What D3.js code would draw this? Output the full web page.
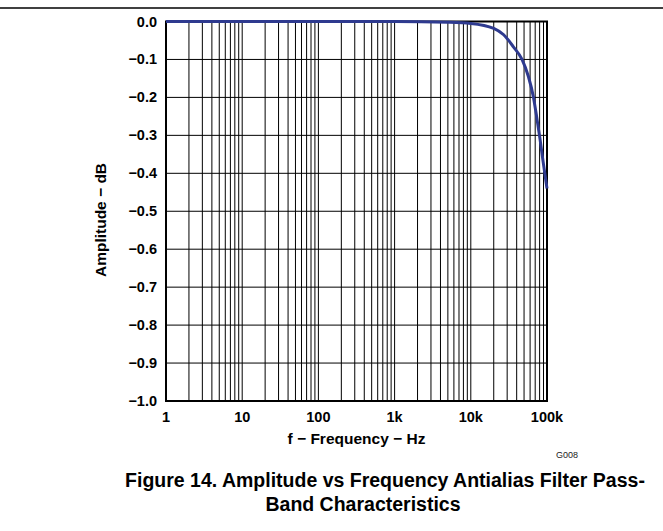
<!DOCTYPE html>
<html><head><meta charset="utf-8">
<script src="https://cdn.jsdelivr.net/npm/d3@7"></script>
<style>body{margin:0;background:#fff}svg{display:block}text{font-family:"Liberation Sans",Arial,sans-serif}</style>
</head><body>
<script>
const freqs = [1, 10, 100, 1000, 5000, 10000, 20000, 27000, 36000, 47000, 57000, 66000, 73000, 81000, 89000, 100000];
const amps  = [0, 0, 0, 0, -0.002, -0.005, -0.018, -0.035, -0.066, -0.10, -0.145, -0.197, -0.25, -0.31, -0.37, -0.44];
const xTickVals = [1, 10, 100, 1000, 10000, 100000];
const xTickLabels = ["1", "10", "100", "1k", "10k", "100k"];
const yTickVals = [0, -0.1, -0.2, -0.3, -0.4, -0.5, -0.6, -0.7, -0.8, -0.9, -1.0];
const yTickLabels = ["0.0", "\u22120.1", "\u22120.2", "\u22120.3", "\u22120.4", "\u22120.5", "\u22120.6", "\u22120.7", "\u22120.8", "\u22120.9", "\u22121.0"];
const xTitle = "f \u2212 Frequency \u2212 Hz";
const yTitle = "Amplitude \u2212 dB";
const captionLines = ["Figure 14. Amplitude vs Frequency Antialias Filter Pass-", "Band Characteristics"];
const code = "G008";

const W = 663, H = 531;
const L = 166, R = 547, T = 21.5, B = 401;
const svg = d3.select("body").append("svg").attr("width", W).attr("height", H);

svg.append("line").attr("x1", 0).attr("x2", W).attr("y1", 8).attr("y2", 8)
  .attr("stroke", "#000").attr("stroke-width", 1.5);

const x = d3.scaleLog().domain([1, 100000]).range([L, R]);
const y = d3.scaleLinear().domain([-1, 0]).range([B, T]);

// vertical grid
const minor = [];
for (let d = 1; d < 100000; d *= 10) for (let m = 1; m <= 9; m++) minor.push(d * m);
minor.push(100000);
svg.append("g").selectAll("line").data(minor).join("line")
  .attr("x1", d => x(d)).attr("x2", d => x(d)).attr("y1", T).attr("y2", B)
  .attr("stroke", "#000").attr("stroke-width", 1);

// horizontal grid
svg.append("g").selectAll("line").data(yTickVals).join("line")
  .attr("x1", L).attr("x2", R).attr("y1", d => y(d)).attr("y2", d => y(d))
  .attr("stroke", "#000").attr("stroke-width", 1);

// frame
svg.append("rect").attr("x", L).attr("y", T).attr("width", R - L).attr("height", B - T)
  .attr("fill", "none").attr("stroke", "#000").attr("stroke-width", 2);

// curve
const line = d3.line().x((d, i) => x(freqs[i])).y(d => y(d)).curve(d3.curveMonotoneX);
svg.append("path").datum(amps).attr("d", line)
  .attr("fill", "none").attr("stroke", "#2e3a8f").attr("stroke-width", 3).attr("stroke-linejoin", "round");

// y tick labels
svg.append("g").selectAll("text").data(yTickVals).join("text")
  .attr("x", 157).attr("y", d => y(d) + 5)
  .attr("text-anchor", "end").attr("font-size", 14.5).attr("font-weight", "bold")
  .text((d, i) => yTickLabels[i]);

// x tick labels
svg.append("g").selectAll("text").data(xTickVals).join("text")
  .attr("x", d => x(d)).attr("y", 422)
  .attr("text-anchor", "middle").attr("font-size", 14.5).attr("font-weight", "bold")
  .text((d, i) => xTickLabels[i]);

svg.append("text").attr("x", (L + R) / 2).attr("y", 444).attr("text-anchor", "middle")
  .attr("font-size", 15.5).attr("font-weight", "bold").text(xTitle);

svg.append("text").attr("transform", "translate(106,220) rotate(-90)").attr("text-anchor", "middle")
  .attr("font-size", 15.5).attr("font-weight", "bold").text(yTitle);

svg.append("text").attr("x", 567).attr("y", 458).attr("text-anchor", "middle")
  .attr("font-size", 9).attr("fill", "#222").text(code);

svg.append("text").attr("x", 385).attr("y", 487).attr("text-anchor", "middle")
  .attr("font-size", 19.5).attr("font-weight", "bold").text(captionLines[0]);
svg.append("text").attr("x", 363).attr("y", 511).attr("text-anchor", "middle")
  .attr("font-size", 19.5).attr("font-weight", "bold").text(captionLines[1]);
</script>
</body></html>
